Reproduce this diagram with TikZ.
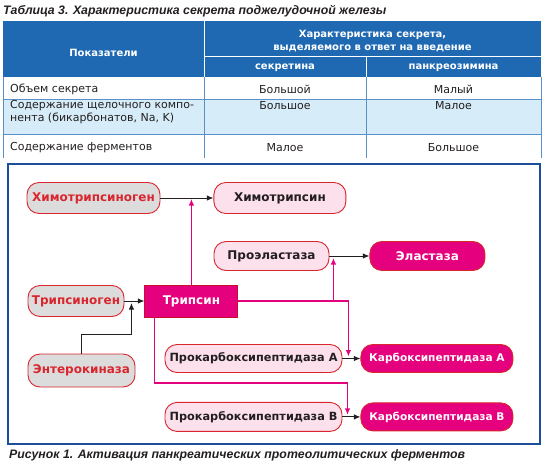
\documentclass[tikz,border=0pt]{standalone}
\usepackage{fontspec}
\setmainfont{DejaVu Sans}
\newfontfamily\capfont{Liberation Sans}
\usepackage{tikz}
\usetikzlibrary{positioning, arrows.meta, calc}

\definecolor{hdrblue}{HTML}{1F69B3}
\definecolor{rowblue}{HTML}{D6EDF9}
\definecolor{lineblue}{HTML}{5A90C8}
\definecolor{frameblue}{HTML}{1D4E9A}
\definecolor{zymred}{HTML}{D9262E}
\definecolor{zymgray}{HTML}{DCDCDD}
\definecolor{zympink}{HTML}{FCE0EB}
\definecolor{enzmag}{HTML}{E5007E}
\definecolor{trypedge}{HTML}{C8102E}
\definecolor{inkdark}{HTML}{231F20}

\begin{document}
\begin{tikzpicture}[
            x=1pt, y=-1pt,
            pill/.style={
                rectangle,
                rounded corners=12pt,
                draw=zymred,
                line width=0.9pt,
                minimum height=31pt,
                inner sep=0pt,
                font=\bfseries\fontsize{12}{14}\selectfont
            },
            zymogen/.style={pill, fill=zymgray, text=zymred},
            proform/.style={pill, fill=zympink, text=inkdark},
            enzyme/.style={pill, fill=enzmag, text=white},
            tbox/.style={
                rectangle,
                draw=trypedge,
                fill=enzmag,
                text=white,
                line width=0.9pt,
                minimum width=93pt,
                minimum height=32pt,
                inner sep=0pt,
                font=\bfseries\fontsize{12}{14}\selectfont
            },
            hdr/.style={
                text=white,
                align=center,
                inner sep=0pt,
                font=\bfseries\fontsize{10}{13}\selectfont
            },
            cell/.style={
                text=inkdark,
                inner sep=0pt,
                font=\fontsize{11}{13}\selectfont
            },
            capt/.style={
                anchor=west,
                text=inkdark,
                inner sep=0pt,
                font=\capfont\bfseries\itshape\fontsize{12.3}{14}\selectfont
            },
            conv/.style={
                -{Latex[length=6.5pt,width=5.5pt]},
                line width=1pt,
                draw=inkdark
            },
            act/.style={
                -{Latex[length=6.5pt,width=5.5pt]},
                line width=1.2pt,
                draw=enzmag
            }
        ]
            \useasboundingbox (0,0) rectangle (544,466);

            \node [capt] (tabtitle) at (3,11) {Таблица 3. Характеристика секрета поджелудочной железы};

            \fill [hdrblue] (3,21) rectangle (541,77);
            \draw [white, line width=1pt] (204,21) -- (204,77) (204,56) -- (541,56) (366,56) -- (366,77);
            \fill [rowblue] (3,99) rectangle (541,134);
            \draw [lineblue, line width=0.6pt] (3,99) -- (541,99) (3,134) -- (541,134);
            \draw [lineblue, line width=0.6pt] (3,77) -- (3,158) (204,77) -- (204,158)
                                               (366,77) -- (366,158) (541,77) -- (541,158);

            \node [hdr] (hind) at (103.5,52.5) {Показатели};
            \node [hdr] (hchar) at (372.5,41) {Характеристика секрета,\\выделяемого в ответ на введение};
            \node [hdr] (hsec) at (285,68) {секретина};
            \node [hdr] (hpan) at (453.5,68) {панкреозимина};

            \node [cell, anchor=west] (vol) at (10,89.5) {Объем секрета};
            \node [cell] (volsec) at (285,89.5) {Большой};
            \node [cell] (volpan) at (453.5,89.5) {Малый};
            \node [cell, anchor=west] (alk) at (10,105.5) {Содержание щелочного компо-};
            \node [cell, anchor=west] (alkb) at (10,118.5) {нента (бикарбонатов, Na, K)};
            \node [cell] (alksec) at (285,105.5) {Большое};
            \node [cell] (alkpan) at (453.5,105.5) {Малое};
            \node [cell, anchor=west] (enz) at (10,148) {Содержание ферментов};
            \node [cell] (enzsec) at (285,148) {Малое};
            \node [cell] (enzpan) at (453.5,148) {Большое};

            \draw [frameblue, line width=1.2pt] (8,164) rectangle (540,444);

            \node [zymogen, minimum width=133pt] (chtg) at (93.5,198) {Химотрипсиноген};
            \node [proform, minimum width=132pt, right=53pt of chtg] (cht) {Химотрипсин};
            \node [proform, minimum width=115pt, minimum height=29pt] (proel) at (271.5,256) {Проэластаза};
            \node [enzyme, minimum width=115pt, minimum height=29pt, right=40pt of proel] (el) {Эластаза};
            \node [zymogen, minimum width=96pt] (tg) at (76,301) {Трипсиноген};
            \node [tbox, right=20pt of tg] (t) {Трипсин};
            \node [zymogen, minimum width=107pt, minimum height=33pt] (ek) at (81.5,370.5) {Энтерокиназа};
            \node [proform, minimum width=177pt, minimum height=28pt, font=\bfseries\fontsize{11.3}{13}\selectfont]
                (pca) at (253.5,358.5) {Прокарбоксипептидаза А};
            \node [enzyme, minimum width=152pt, minimum height=28pt, font=\bfseries\fontsize{10.6}{13}\selectfont,
                right=18pt of pca] (ca) {Карбоксипептидаза А};
            \node [proform, minimum width=177pt, minimum height=29pt, font=\bfseries\fontsize{11.3}{13}\selectfont,
                below=29pt of pca] (pcb) {Прокарбоксипептидаза В};
            \node [enzyme, minimum width=152pt, minimum height=28pt, font=\bfseries\fontsize{10.6}{13}\selectfont,
                right=18pt of pcb] (cb) {Карбоксипептидаза В};

            \coordinate (elgo) at ($(proel.east)!0.1!(el.west)$);
            \coordinate (tggo) at ($(tg.east)!0.35!(t.west)$);
            \coordinate (cago) at ($(pca.east)!0.33!(ca.west)$);
            \coordinate (cbgo) at ($(pcb.east)!0.28!(cb.west)$);

            \draw [conv] (chtg.east) -- (cht.west);
            \draw [conv] (proel.east) -- (el.west);
            \draw [conv] (tg.east) -- (t.west);
            \draw [conv] (pca.east) -- (ca.west);
            \draw [conv] (pcb.east) -- (cb.west);
            \draw [conv, shorten >=2pt] (ek.north) |- ([yshift=-33pt]tggo) -- (tggo);

            \draw [act, shorten >=1pt] (t.north) -- (t.north |- chtg.east);
            \draw [act, shorten >=2pt] (t.east) -| (cago);
            \draw [act, shorten >=2pt] (elgo |- t.east) -- (elgo);
            \draw [act, shorten >=2pt] ([xshift=10pt]t.south west) |- ([yshift=34pt]cbgo) -- (cbgo);

            \node [capt] (figcap) at (9,455) {Рисунок 1. Активация панкреатических протеолитических ферментов};

        \end{tikzpicture}
\end{document}
